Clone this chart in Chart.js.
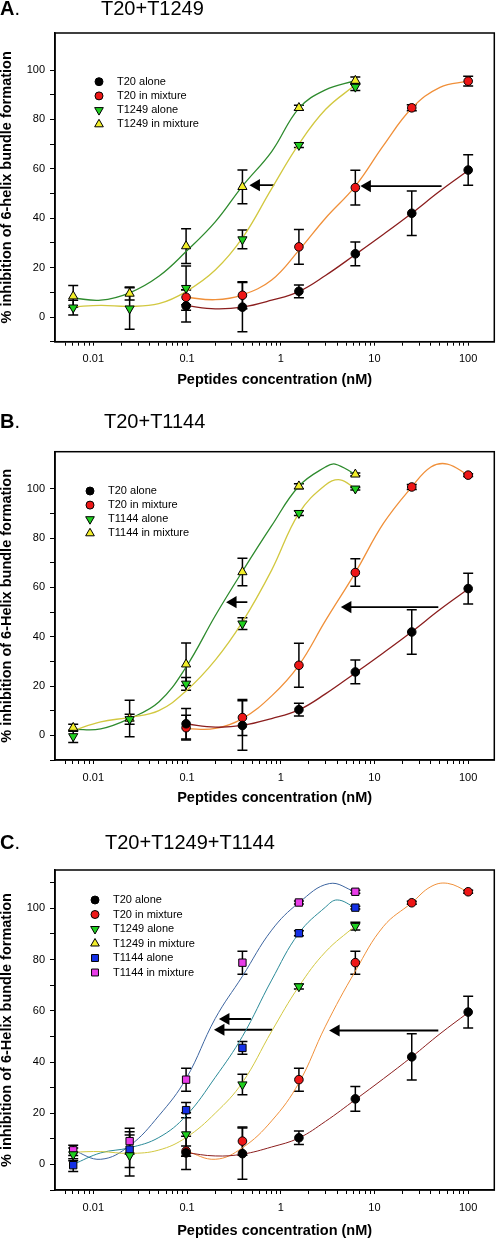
<!DOCTYPE html>
<html>
<head>
<meta charset="utf-8">
<title>Inhibition of 6-helix bundle formation</title>
<script src="https://cdn.jsdelivr.net/npm/chart.js@4.4.1/dist/chart.umd.min.js"></script>
<style>
  html, body { margin: 0; padding: 0; background: #fff; }
  body { position: relative; width: 497px; height: 1239px; overflow: hidden; font-family: "Liberation Sans", Arial, sans-serif; color: #000; }
  .panel { position: absolute; left: 0; }
  .tag { position: absolute; left: 0; font-size: 20px; line-height: 20px; font-weight: bold; }
  .tag span { font-weight: normal; }
  .title { position: absolute; font-size: 20px; line-height: 20px; }
</style>
</head>
<body>
<canvas class="panel" id="panelA" width="497" height="400" style="top:0"></canvas>
<canvas class="panel" id="panelB" width="497" height="418" style="top:400px"></canvas>
<canvas class="panel" id="panelC" width="497" height="421" style="top:818px"></canvas>

<div class="tag" style="top:-2.5px">A<span>.</span></div>
<div class="title" style="top:-2.5px;left:101px">T20+T1249</div>
<div class="tag" style="top:411px">B<span>.</span></div>
<div class="title" style="top:411px;left:104px">T20+T1144</div>
<div class="tag" style="top:832px">C<span>.</span></div>
<div class="title" style="top:832px;left:105px">T20+T1249+T1144</div>

<script>
// peptide concentrations (nM), 4-fold dilutions
const conc = [0.0061, 0.0244, 0.0977, 0.39, 1.5625, 6.25, 25, 100];
const concT20 = conc.slice(2);
const concPartner = conc.slice(0, 6);

const xTickLabels = ['0.01', '0.1', '1', '10', '100'];
const yTickLabels = ['0', '20', '40', '60', '80', '100'];
const xTitle = 'Peptides concentration (nM)';

// ---- panel A : T20 + T1249
const labelsA = ['T20 alone', 'T20 in mixture', 'T1249 alone', 'T1249 in mixture'];
const aT20Alone = [4.5, 4, 10.4, 25.6, 42, 59.5];
const aT20AloneErr = [6.5, 10, 2.6, 4.8, 9, 6.2];
const aT20Mix = [8, 8.8, 28.4, 52.4, 84.7, 95.5];
const aT20MixErr = [3, 5.5, 7, 7, 1.2, 2];
const aT1249Alone = [3.8, 3.4, 11.7, 31.4, 69.6, 93.2];
const aT1249AloneErr = [3, 8.4, 9, 3.8, 1, 1.5];
const aT1249Mix = [8.4, 9.5, 28.7, 52.7, 84.7, 95.7];
const aT1249MixErr = [4.4, 2.6, 7, 6.8, 1, 1.5];
// fitted curves: [x, y]
const fitAT20Alone = [[0.0977, 4.6], [0.2, 3.3], [0.39, 4], [0.8, 6.8], [1.56, 10.3], [3, 16.8], [6.25, 25.3], [12.5, 33.5], [25, 42], [50, 51], [100, 59.3]];
const fitAT20Mix = [[0.0977, 8], [0.2, 7], [0.39, 9], [0.8, 15], [1.56, 27], [3, 40], [6.25, 53], [12.5, 69.5], [25, 84.5], [50, 93], [100, 95.5]];
const fitAT1249Alone = [[0.0061, 4.1], [0.012, 4.7], [0.0244, 4.3], [0.05, 5.4], [0.0977, 10.3], [0.2, 19], [0.39, 32], [0.8, 52], [1.56, 70], [3, 84], [6.25, 94]];
const fitAT1249Mix = [[0.0061, 7.7], [0.012, 6.8], [0.0244, 9.8], [0.05, 16.5], [0.0977, 26.5], [0.2, 38.5], [0.39, 53], [0.8, 67], [1.56, 84.5], [3, 92], [6.25, 95.7]];
// arrows: [tail x, head x, y]
const arrowsA = [[0.85, 0.55, 53.4], [52, 8.4, 53]];

// ---- panel B : T20 + T1144
const labelsB = ['T20 alone', 'T20 in mixture', 'T1144 alone', 'T1144 in mixture'];
const bT20Alone = [4.7, 4, 10.4, 25.7, 41.9, 59.5];
const bT20AloneErr = [6.2, 10, 2.6, 4.8, 9, 6.2];
const bT20Mix = [3.1, 7.2, 28.4, 66, 100.7, 105.5];
const bT20MixErr = [5, 7.3, 8.9, 5.6, 1, 0.6];
const bT1144Alone = [-0.4, 6.5, 20.9, 45.3, 90.1, 100];
const bT1144AloneErr = [2.5, 2, 2.6, 2.4, 1, 0.5];
const bT1144Mix = [3.1, 6.8, 28.8, 66.2, 101, 105.8];
const bT1144MixErr = [1.4, 7.4, 8.6, 5.6, 1, 0.6];
const fitBT20Alone = [[0.0977, 4.6], [0.2, 3.3], [0.39, 4], [0.8, 6.8], [1.56, 10.3], [3, 16.8], [6.25, 25.3], [12.5, 33.5], [25, 42], [50, 51], [100, 59.3]];
const fitBT20Mix = [[0.0977, 2.7], [0.2, 2.8], [0.39, 6.8], [0.8, 16], [1.56, 28.4], [3, 46.5], [6.25, 66], [12.5, 86], [25, 100.7], [40, 108.8], [60, 110], [100, 105.5]];
const fitBT1144Alone = [[0.0061, 2], [0.012, 5.5], [0.0244, 7.3], [0.05, 10], [0.0977, 18], [0.2, 30.5], [0.39, 46], [0.8, 67], [1.56, 90], [3, 101.5], [4.3, 103.6], [6.25, 100]];
const fitBT1144Mix = [[0.0061, 2.4], [0.012, 2.6], [0.0244, 6.8], [0.05, 13.5], [0.0977, 27.7], [0.2, 48.5], [0.39, 66.5], [0.8, 85], [1.56, 101], [3, 108.8], [3.8, 110], [6.25, 105.8]];
const arrowsB = [[0.44, 0.31, 54], [48, 5.2, 52]];

// ---- panel C : T20 + T1249 + T1144
const labelsC = ['T20 alone', 'T20 in mixture', 'T1249 alone', 'T1249 in mixture', 'T1144 alone', 'T1144 in mixture'];
const cT20Alone = [4.5, 4.2, 10.4, 25.6, 42, 59.5];
const cT20AloneErr = [6.5, 10, 2.6, 4.8, 9, 6.2];
const cT20Mix = [5.2, 9.1, 33.1, 78.8, 102.2, 106.5];
const cT20MixErr = [2, 5.5, 4.5, 4.5, 0.6, 0.6];
const cT1249Alone = [3.9, 3.5, 11.7, 31.2, 69.5, 93.1];
const cT1249AloneErr = [2.5, 8, 8.5, 4, 1, 1.5];
const cT1249Mix = [];
const cT1249MixErr = [];
const cT1144Alone = [-0.3, 5.8, 21.2, 45.5, 90.3, 100.3];
const cT1144AloneErr = [2.5, 7, 3, 2.5, 1, 0.5];
const cT1144Mix = [5.5, 9.1, 33.1, 78.8, 102.3, 106.5];
const cT1144MixErr = [2, 5, 4.5, 4.5, 0.6, 0.6];
const fitCT20Alone = [[0.0977, 4.6], [0.2, 3.3], [0.39, 4], [0.8, 6.8], [1.56, 10.3], [3, 16.8], [6.25, 25.3], [12.5, 33.5], [25, 42], [50, 51], [100, 59.3]];
const fitCT20Mix = [[0.0977, 5.2], [0.2, 2], [0.39, 6.5], [0.8, 17], [1.56, 31.8], [3, 54], [6.25, 75.5], [12.5, 93], [25, 102.2], [40, 108.5], [60, 109.8], [100, 106.5]];
const fitCT1249Alone = [[0.0061, 4.8], [0.012, 5], [0.0244, 4.3], [0.05, 5.6], [0.0977, 10.5], [0.2, 20], [0.39, 32], [0.8, 52], [1.56, 69.5], [3, 83], [6.25, 93.2]];
const fitCT1144Alone = [[0.0061, 0], [0.012, 4.5], [0.0244, 6.5], [0.05, 10.5], [0.0977, 19], [0.2, 34], [0.39, 50], [0.8, 72], [1.56, 90.3], [3, 100.5], [4, 103.3], [6.25, 100.3]];
const fitCT1144Mix = [[0.0061, 5.5], [0.012, 2], [0.0244, 7.3], [0.05, 19], [0.0977, 33.5], [0.2, 57], [0.39, 73.5], [0.8, 91.5], [1.56, 102.2], [3.3, 109.7], [6.25, 106.5]];
const arrowsC = [[0.48, 0.26, 56.8], [0.81, 0.23, 52.6], [48, 3.9, 52.3]];

// marker looks
const blackDot = {shape: 'circle', r: 4.3, fill: '#000000'};
const redDot = {shape: 'circle', r: 4.3, fill: '#ee1616'};
const greenDown = {shape: 'triangle', rot: 180, r: 5.3, fill: '#1fcf1f'};
const yellowUp = {shape: 'triangle', rot: 0, r: 5.3, fill: '#f2ee2a'};
const blueSq = {shape: 'rect', r: 5.2, fill: '#1430e6'};
const magentaSq = {shape: 'rect', r: 5.2, fill: '#e83ce8'};

Chart.defaults.font.family = '"Liberation Sans", Arial, Helvetica, sans-serif';
Chart.defaults.color = '#000';

const errorBarPlugin = {
  id: 'errorBars',
  beforeDatasetsDraw(chart) {
    const {ctx, scales: {x, y}} = chart;
    ctx.save();
    ctx.strokeStyle = '#000';
    ctx.lineWidth = 1.5;
    chart.data.datasets.forEach((ds) => {
      if (!ds.errorBars) return;
      ds.data.forEach((p, i) => {
        const e = ds.errorBars[i];
        const px = x.getPixelForValue(p.x);
        const top = y.getPixelForValue(p.y + e);
        const bot = y.getPixelForValue(p.y - e);
        ctx.beginPath();
        ctx.moveTo(px, top); ctx.lineTo(px, bot);
        ctx.moveTo(px - 5, top); ctx.lineTo(px + 5, top);
        ctx.moveTo(px - 5, bot); ctx.lineTo(px + 5, bot);
        ctx.stroke();
      });
    });
    ctx.restore();
  }
};

const framePlugin = {
  id: 'frame',
  afterDraw(chart) {
    const {ctx, chartArea: a} = chart;
    ctx.save();
    ctx.strokeStyle = '#000';
    ctx.lineWidth = 1.5;
    ctx.strokeRect(a.left, a.top, a.right - a.left, a.bottom - a.top);
    ctx.restore();
  }
};

// legend drawn inside the plot, top-left
const insideLegend = {
  id: 'insideLegend',
  afterDraw(chart, args, opts) {
    const {ctx, chartArea: a} = chart;
    ctx.save();
    ctx.font = '11px "Liberation Sans", Arial, sans-serif';
    ctx.textBaseline = 'middle';
    let row = 0;
    chart.data.datasets.forEach((ds) => {
      if (!ds.inLegend) return;
      const cx = a.left + opts.x;
      const cy = a.top + opts.y + row * opts.step;
      ctx.fillStyle = ds.backgroundColor;
      ctx.strokeStyle = '#000';
      ctx.lineWidth = 1;
      Chart.helpers.drawPoint(ctx, {pointStyle: ds.pointStyle, rotation: ds.pointRotation, radius: ds.pointRadius - 0.3, borderWidth: 1}, cx, cy);
      ctx.fillStyle = '#000';
      ctx.fillText(ds.label, cx + 18, cy);
      row++;
    });
    ctx.restore();
  }
};

const markers = (label, xs, ys, errs, look) => ({
  label: label,
  inLegend: true,
  data: ys.map((v, i) => ({x: xs[i], y: v})),
  errorBars: errs,
  showLine: false,
  pointStyle: look.shape,
  pointRotation: look.rot || 0,
  pointRadius: look.r,
  backgroundColor: look.fill,
  borderColor: '#000',
  borderWidth: 1
});

const fitLine = (pairs, color, width) => ({
  data: pairs.map(([x, y]) => ({x, y})),
  showLine: true,
  borderColor: color,
  borderWidth: width,
  pointRadius: 0,
  tension: 0.4,
  fill: false
});

const arrowLine = ([tail, head, y]) => ({
  data: [{x: tail, y: y}, {x: head, y: y}],
  showLine: true,
  borderColor: '#000',
  borderWidth: 1.8,
  pointStyle: 'triangle',
  pointRotation: 270,
  pointRadius: [0, 7],
  pointBackgroundColor: '#000',
  pointBorderColor: '#000',
  pointBorderWidth: 0
});

const isNiceLog = (v) => {
  const e = Math.floor(Math.log10(v) + 1e-9);
  const m = v / Math.pow(10, e);
  return Math.abs(m - Math.round(m)) < 1e-6;
};

const xLabel = (v) => {
  const l = Math.log10(v);
  if (Math.abs(l - Math.round(l)) > 1e-6) return '';
  return xTickLabels[Math.round(l) + 2] || '';
};

function makePanel(el, p) {
  return new Chart(el, {
    type: 'scatter',
    data: {datasets: p.datasets},
    plugins: [errorBarPlugin, framePlugin, insideLegend],
    options: {
      responsive: false,
      animation: false,
      events: [],
      layout: {autoPadding: false, padding: {top: p.top, right: 2.7, bottom: 0, left: 0}},
      plugins: {
        legend: {display: false},
        tooltip: {enabled: false},
        insideLegend: p.legend
      },
      scales: {
        x: {
          type: 'logarithmic',
          min: 0.0039,
          max: 190,
          afterBuildTicks: (s) => { s.ticks = s.ticks.filter((t) => isNiceLog(t.value)); },
          afterFit: (s) => { s.height = p.axisH; s.paddingLeft = 0; s.paddingRight = 0; },
          grid: {drawOnChartArea: false, tickLength: 4, color: '#000'},
          border: {color: '#000', width: 1.5},
          ticks: {autoSkip: false, maxRotation: 0, padding: 7, color: '#000', font: {size: 11}, callback: (v) => xLabel(v)},
          title: {display: true, text: xTitle, color: '#000', font: {size: 14.5, weight: 'bold', lineHeight: 1}, padding: {top: 0, bottom: p.titlePad}}
        },
        y: {
          min: -10,
          max: 115,
          afterBuildTicks: (s) => { s.ticks = s.ticks.filter((t) => t.value < 112); },
          afterFit: (s) => { s.width = 55; s.paddingTop = 0; s.paddingBottom = 0; },
          grid: {drawOnChartArea: false, tickLength: 5, color: '#000'},
          border: {color: '#000', width: 1.5},
          ticks: {stepSize: 10, padding: 5, color: '#000', font: {size: 11},
            callback: (v) => yTickLabels.includes(String(v)) ? String(v) : ''},
          title: {display: true, text: p.yTitle, color: '#000', font: {size: 14.5, weight: 'bold', lineHeight: 1}, padding: 0}
        }
      }
    }
  });
}

makePanel(document.getElementById('panelA'), {
  top: 33, axisH: 58.3, titlePad: 12.75,
  yTitle: '% inhibition of 6-helix bundle formation',
  legend: {x: 44, y: 48.7, step: 14.2},
  datasets: [
    markers(labelsA[0], concT20, aT20Alone, aT20AloneErr, blackDot),
    markers(labelsA[1], concT20, aT20Mix, aT20MixErr, redDot),
    markers(labelsA[2], concPartner, aT1249Alone, aT1249AloneErr, greenDown),
    markers(labelsA[3], concPartner, aT1249Mix, aT1249MixErr, yellowUp),
    fitLine(fitAT20Alone, '#8b1e1e', 1.3),
    fitLine(fitAT20Mix, '#f0903a', 1.3),
    fitLine(fitAT1249Alone, '#d2c840', 1.3),
    fitLine(fitAT1249Mix, '#2e8b2e', 1.3),
    ...arrowsA.map(arrowLine)
  ]
});

makePanel(document.getElementById('panelB'), {
  top: 51.7, axisH: 58, titlePad: 12.45,
  yTitle: '% inhibition of 6-Helix bundle formation',
  legend: {x: 35, y: 39.3, step: 14.1},
  datasets: [
    markers(labelsB[0], concT20, bT20Alone, bT20AloneErr, blackDot),
    markers(labelsB[1], concT20, bT20Mix, bT20MixErr, redDot),
    markers(labelsB[2], concPartner, bT1144Alone, bT1144AloneErr, greenDown),
    markers(labelsB[3], concPartner, bT1144Mix, bT1144MixErr, yellowUp),
    fitLine(fitBT20Alone, '#8b1e1e', 1.3),
    fitLine(fitBT20Mix, '#f0903a', 1.3),
    fitLine(fitBT1144Alone, '#d2c840', 1.3),
    fitLine(fitBT1144Mix, '#2e8b2e', 1.3),
    ...arrowsB.map(arrowLine)
  ]
});

makePanel(document.getElementById('panelC'), {
  top: 52, axisH: 49, titlePad: 1.25,
  yTitle: '% inhibition of 6-Helix bundle formation',
  legend: {x: 40, y: 30, step: 14.5},
  datasets: [
    markers(labelsC[0], concT20, cT20Alone, cT20AloneErr, blackDot),
    markers(labelsC[1], concT20, cT20Mix, cT20MixErr, redDot),
    markers(labelsC[2], concPartner, cT1249Alone, cT1249AloneErr, greenDown),
    markers(labelsC[3], concPartner, cT1249Mix, cT1249MixErr, yellowUp),
    markers(labelsC[4], concPartner, cT1144Alone, cT1144AloneErr, blueSq),
    markers(labelsC[5], concPartner, cT1144Mix, cT1144MixErr, magentaSq),
    fitLine(fitCT20Alone, '#8b1e1e', 1),
    fitLine(fitCT20Mix, '#f0903a', 1),
    fitLine(fitCT1249Alone, '#d2c840', 1),
    fitLine(fitCT1144Alone, '#2a8a98', 1),
    fitLine(fitCT1144Mix, '#3d65a0', 1),
    ...arrowsC.map(arrowLine)
  ]
});
</script>
</body>
</html>
